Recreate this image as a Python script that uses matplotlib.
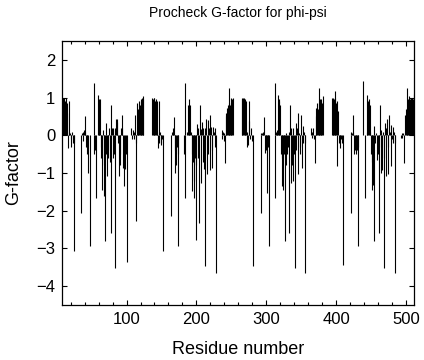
import numpy as np
import matplotlib
matplotlib.use('Agg')
import matplotlib.pyplot as plt
from matplotlib.ticker import MultipleLocator

plt.rcParams['font.family'] = ['Liberation Sans', 'DejaVu Sans']

# first residue number and Procheck G-factor (phi-psi) per residue
first_res = 8
g_factor = [
    1.0, 1.0, 0.95, 1.0, 0.9, 1.0, 0.85, 0.6, -0.35, 0.1,          # 8
    0.9, 0.05, -0.1, -0.3, 0.1, -0.2, -3.08, -0.2, 0, 0,           # 18
    0, 0, 0, 0, 0, 0, 0, -2.06, 0.05, 0.1,                         # 28
    -0.15, 0.15, 0.52, 0.1, -0.3, -0.5, -0.3, -1.0, 0, -2.95,      # 38
    0, 0, 0, 0, 0, -0.5, 1.39, -0.4, -1.66, 0,                     # 48
    0, 1.08, 0.95, 0.9, 0.95, -0.6, -0.3, -1.44, 0.15, -0.8,       # 58
    -1.62, -2.8, -0.5, 0.33, -1.09, -0.4, -0.6, 0.2, -0.7, -2.6,   # 68
    0.81, 0.2, -0.6, 0.2, -0.5, 0.2, -3.52, 0.42, 0.35, 0.42,      # 78
    -0.2, -1.09, -0.8, -0.5, 0.2, 0.55, 0.2, -0.87, 0, -1.35,      # 88
    -0.9, -0.5, -3.37, 0, 0, 0, 0, 0, 0, 0.2,                      # 98
    -0.1, 0.15, -0.1, 0.1, 0.55, -2.28, -0.2, 0.86, 0.5, 0.7,      # 108
    0.9, 0.8, 0.95, 0.9, 1.0, 0.95, 1.04, 0, 0, 0,                 # 118
    0, 0, 0, 0, 0, 0, 0, 0, 0, 1.0,                                # 128
    0.95, 1.0, 1.0, 0.9, 0.95, 0.9, 0.1, -0.34, -0.2, 0.9,         # 138
    0.1, -0.25, -0.2, -0.1, -3.08, 0, 0, 0, 0, 0,                  # 148
    0, 0, 0, 0, 0, 0, -2.15, 0.1, 0.05, 0.2,                       # 158
    0.49, -0.4, -1.0, -0.8, -0.3, -0.5, -2.95, 0, 0, 0,            # 168
    0, 0, 0, 0, -0.5, 1.39, -1.66, 0, 0, 0.1,                      # 178
    0.81, 0.7, 0.95, 0.8, 0.1, -1.47, -0.5, -0.7, -1.2, -1.66,     # 188
    -0.6, -2.77, -0.8, 0.3, -0.6, 0.2, -2.33, 0.81, 0.17, -1.27,   # 198
    0.35, -0.7, 0.2, -0.9, -3.48, 0.2, 0.43, -1.04, 0.4, -0.5,     # 208
    0.2, 0.55, -0.91, 0.22, -0.4, -0.87, 0.22, 0.1, -0.3, 0.2,     # 218
    -3.64, 0, 0, 0, 0, 0, 0, 0, 0.15, -0.1,                        # 228
    0.1, -0.15, 0.05, -0.73, 0.6, 0.5, 0.73, 0.8, 1.26, 0.86,      # 238
    0.8, 0.86, 1.0, 0.95, 1.0, 0, 0, 0, 0, 0,                      # 248
    0, 0, 0, 0, 0, 0, 0, 1.0, 0.95, 1.0,                           # 258
    1.0, 0.95, 0.9, 0.9, 0.1, -0.3, -0.25, 0.9, 0.37, -0.1,        # 268
    0.2, -0.15, 0, -3.48, 0, 0, 0, 0, 0, 0,                        # 278
    0, 0, 0, 0, -2.06, 0.06, 0.05, 0.06, 0.1, 0.49,                # 288
    -0.47, -0.3, -0.4, -1.53, -0.3, -0.2, -2.95, 0, 0, 0,          # 298
    0, 0, 0.02, 0, 1.39, -1.66, 0.1, 0.1, 0.15, 1.08,              # 308
    0.9, 0.95, 0.8, -0.5, -1.35, -0.6, -1.44, -0.3, -0.5, -2.81,   # 318
    0.05, -0.8, -0.5, -0.3, -2.6, 0.1, 0.81, -1.27, 0.2, -0.8,     # 328
    0.2, -1.2, -0.5, -3.52, 0.33, -0.4, 0.2, 0.6, -1.04, 0.05,     # 338
    -0.5, -0.3, 0.55, -0.87, 0.24, -0.2, 0.1, -0.2, -3.64, 0,      # 348
    0, 0, 0, 0, 0, 0, 0.2, 0.1, -0.07, 0.2,                        # 358
    -0.1, 0, -0.73, 0.73, 0.5, 0.86, 0.7, 0.86, 1.26, 0.95,        # 368
    0.9, 0.95, 0.85, 1.04, 0, 0, 0, 0, 0, 0,                       # 378
    0, 0, 0, 0, 0, 0, 1.0, 0.95, 1.0, 0.95,                        # 388
    1.0, 1.17, 0.86, 0.9, -0.82, 0.64, -0.2, -0.1, -0.34, -0.1,    # 398
    -0.2, 0, -3.43, 0, 0, 0, 0, 0, 0, 0,                           # 408
    0, 0, 0, -2.06, 0.1, 0.05, 0.1, 0.55, -0.5, -0.4,              # 418
    -0.3, -0.5, -0.4, -0.3, -2.95, 0, 0, 0, 0, 0,                  # 428
    0, 1.43, 0, -1.66, 0, 0, 0.1, 1.08, 0.9, 0.95,                 # 438
    0.8, 0.1, -0.5, -1.44, -0.7, -1.31, 0.24, -2.81, -0.2, 0.06,   # 448
    -0.66, 0.02, -0.5, -2.6, -0.3, 0.81, -1.0, 0.15, -0.91, 0.1,   # 458
    -0.6, -3.52, 0.33, -1.09, 0.2, 0.42, -0.3, -1.04, 0.55, 0.1,   # 468
    -0.82, 0.28, -0.1, -0.2, 0.22, 0.1, -0.2, -3.64, 0, 0,         # 478
    0, 0, 0, 0, 0, -0.07, 0.06, -0.07, 0.05, 0,                    # 488
    -0.73, 0.55, 0.7, 0.73, 1.26, 0.95, 0.9, 1.04, 0.95, 1.0,      # 498
    0.9, 1.0, 0.95, 1.0, 1.1,                                      # 508
]
residues = np.arange(first_res, first_res + len(g_factor))

x_range = (8, 512)
y_range = (-4.5, 2.5)

fig = plt.figure(figsize=(4.24, 3.6), dpi=100)
ax = fig.add_axes([0.147, 0.153, 0.83, 0.733])

# impulses, gnuplot style
ax.vlines(residues, 0, g_factor, color='black', lw=0.8)

ax.set_xlim(*x_range)
ax.set_ylim(*y_range)
ax.xaxis.set_major_locator(MultipleLocator(100))
ax.xaxis.set_minor_locator(MultipleLocator(20))
ax.yaxis.set_major_locator(MultipleLocator(1))

ax.tick_params(which='both', direction='in', top=True, right=True,
               labelsize=12, width=0.8)
ax.tick_params(which='major', length=3.5, pad=5)
ax.tick_params(which='minor', length=2)
for s in ax.spines.values():
    s.set_linewidth(0.9)

fig.text(238 / 424, 1 - 13 / 360, 'Procheck G-factor for phi-psi',
         ha='center', va='center', fontsize=10)
fig.text(238 / 424, 1 - 349 / 360, 'Residue number',
         ha='center', va='center', fontsize=13)
fig.text(14 / 424, 1 - 173 / 360, 'G-factor', rotation=90,
         ha='center', va='center', fontsize=13)

fig.savefig('out.png', dpi=100)
